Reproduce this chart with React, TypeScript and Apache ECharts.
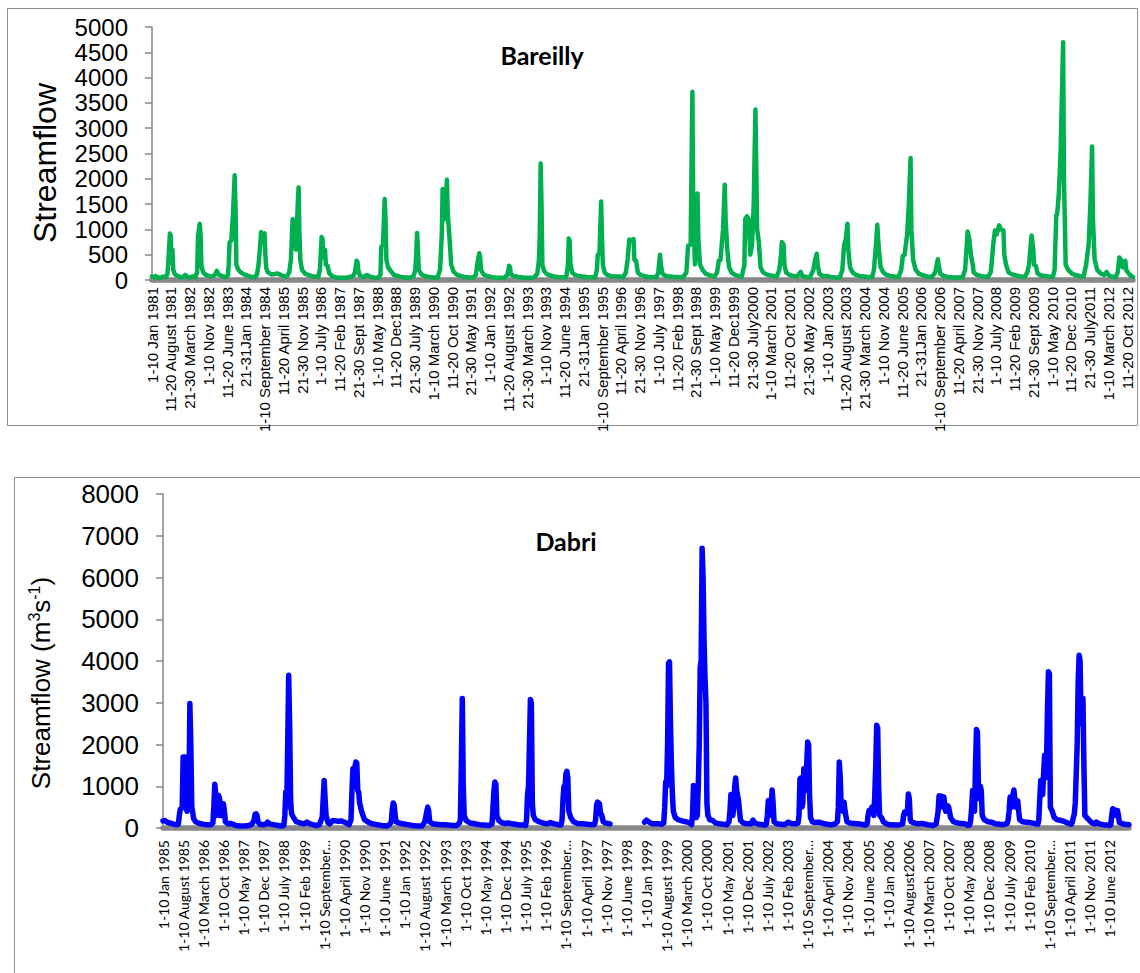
import React, { useEffect, useRef } from "react";
import * as echarts from "echarts";

// Dekad tick labels (every 22nd dekad from 1-10 Jan 1981)
const bareillyTicks = [
  "1-10 Jan 1981", "11-20 August 1981", "21-30 March 1982", "1-10 Nov 1982",
  "11-20 June 1983", "21-31Jan 1984", "1-10 September 1984", "11-20 April 1985",
  "21-30 Nov 1985", "1-10 July 1986", "11-20 Feb 1987", "21-30 Sept 1987",
  "1-10 May 1988", "11-20 Dec1988", "21-30 July 1989", "1-10 March 1990",
  "11-20 Oct 1990", "21-30 May 1991", "1-10 Jan 1992", "11-20 August 1992",
  "21-30 March 1993", "1-10 Nov 1993", "11-20 June 1994", "21-31Jan 1995",
  "1-10 September 1995", "11-20 April 1996", "21-30 Nov 1996", "1-10 July 1997",
  "11-20 Feb 1998", "21-30 Sept 1998", "1-10 May 1999", "11-20 Dec1999",
  "21-30 July2000", "1-10 March 2001", "11-20 Oct 2001", "21-30 May 2002",
  "1-10 Jan 2003", "11-20 August 2003", "21-30 March 2004", "1-10 Nov 2004",
  "11-20 June 2005", "21-31Jan 2006", "1-10 September 2006", "11-20 April 2007",
  "21-30 Nov 2007", "1-10 July 2008", "11-20 Feb 2009", "21-30 Sept 2009",
  "1-10 May 2010", "11-20 Dec 2010", "21-30 July2011", "1-10 March 2012",
  "11-20 Oct 2012",
];

// Dekad tick labels (every 21st dekad from 1-10 Jan 1985)
const dabriTicks = [
  "1-10 Jan 1985", "1-10 August 1985", "1-10 March 1986", "1-10 Oct 1986",
  "1-10 May 1987", "1-10 Dec 1987", "1-10 July 1988", "1-10 Feb 1989",
  "1-10 September 1989", "1-10 April 1990", "1-10 Nov 1990", "1-10 June 1991",
  "1-10 Jan 1992", "1-10 August 1992", "1-10 March 1993", "1-10 Oct 1993",
  "1-10 May 1994", "1-10 Dec 1994", "1-10 July 1995", "1-10 Feb 1996",
  "1-10 September 1996", "1-10 April 1997", "1-10 Nov 1997", "1-10 June 1998",
  "1-10 Jan 1999", "1-10 August 1999", "1-10 March 2000", "1-10 Oct 2000",
  "1-10 May 2001", "1-10 Dec 2001", "1-10 July 2002", "1-10 Feb 2003",
  "1-10 September 2003", "1-10 April 2004", "1-10 Nov 2004", "1-10 June 2005",
  "1-10 Jan 2006", "1-10 August2006", "1-10 March 2007", "1-10 Oct 2007",
  "1-10 May 2008", "1-10 Dec 2008", "1-10 July 2009", "1-10 Feb 2010",
  "1-10 September 2010", "1-10 April 2011", "1-10 Nov 2011", "1-10 June 2012",
];

const bareillyStep = 22;
const dabriStep = 21;
const bareillyDekads = 1152; // 1981-2012
const dabriDekads = 1008; // 1985-2012

// Bareilly streamflow: [dekad index from Jan 1981, flow]
const bareillyFlow: [number, number][] = [
  [0,70],[2,55],[4,80],[7,50],[10,45],[13,70],[16,60],[18,110],[19,320],[21,920],[22,870],[23,330],[24,600],[25,190],[27,110],[30,80],[33,60],[36,55],[39,100],[42,60],[45,50],[48,75],[51,55],
  [53,160],[54,870],[56,1110],[57,880],[58,280],[60,150],[63,100],[67,80],[71,70],[74,110],[76,180],[78,110],[82,80],[86,60],[89,90],
  [90,300],[91,740],[93,780],[95,1300],[97,2070],[98,1400],[99,300],[101,210],[104,150],[108,110],[112,85],[116,65],[120,55],[123,100],
  [125,300],[127,700],[128,950],[130,900],[132,920],[133,500],[134,240],[136,150],[140,110],[144,120],[147,130],[150,110],[154,80],[158,70],
  [161,150],[163,400],[165,1200],[167,1150],[169,600],[171,1500],[172,1830],[173,900],[174,400],[176,200],[180,120],[185,90],[190,70],[195,60],
  [197,200],[199,850],[200,820],[201,450],[203,600],[204,300],[206,280],[208,130],[212,70],[217,50],[222,45],[228,45],[232,60],[236,80],
  [238,150],[240,380],[241,360],[242,200],[244,80],[248,60],[252,100],[255,70],[260,50],[265,45],
  [268,100],[269,650],[271,700],[273,1600],[274,1200],[275,400],[277,250],[280,180],[284,100],[288,80],[292,60],[296,50],[300,50],[304,55],
  [307,80],[309,200],[310,500],[311,930],[312,600],[313,200],[316,110],[320,80],[325,60],[330,50],[335,50],
  [338,200],[340,900],[341,1800],[343,1750],[344,1200],[346,1980],[347,1300],[349,850],[351,300],[354,160],[358,100],[362,80],[367,60],[372,50],[377,50],
  [380,100],[382,350],[384,530],[385,450],[386,200],[389,110],[393,80],[398,60],[403,50],[409,45],[414,50],
  [417,100],[419,280],[420,250],[421,120],[424,80],[430,60],[436,50],[442,45],[448,50],
  [452,120],[454,400],[455,900],[456,2300],[457,1500],[458,300],[460,180],[463,120],[467,90],[472,70],[477,60],[482,55],[486,60],
  [488,300],[489,820],[490,780],[491,300],[493,150],[496,100],[500,80],[505,70],[510,60],[515,55],[520,60],
  [522,200],[523,500],[525,520],[527,1550],[528,800],[529,300],[531,150],[534,100],[538,80],[543,70],[548,70],[553,60],
  [556,150],[558,400],[560,800],[563,780],[565,810],[566,400],[568,380],[570,150],[573,100],[577,80],[582,60],[587,60],[592,55],
  [594,150],[596,500],[597,300],[599,120],[603,80],[608,70],[613,60],[618,60],[623,55],
  [627,150],[629,680],[632,700],[634,3720],[635,1500],[637,310],[638,500],[640,1710],[641,800],[643,300],[646,200],[650,120],[655,90],[660,70],
  [663,150],[665,380],[667,400],[670,1000],[672,1880],[673,1200],[675,600],[677,250],[680,150],[684,100],[688,80],[692,70],
  [695,300],[696,1200],[698,1260],[700,1200],[702,500],[704,700],[706,1500],[708,3370],[709,2200],[710,1000],[712,750],[714,250],[717,150],[721,110],[725,90],[729,80],[733,70],
  [736,200],[738,500],[739,750],[741,700],[742,300],[744,150],[748,100],[752,80],[757,70],[761,160],[763,80],[767,60],[772,55],
  [776,200],[778,400],[780,520],[781,300],[783,120],[787,80],[792,80],[796,60],[802,50],[807,50],
  [810,200],[812,690],[814,800],[816,1110],[817,600],[819,250],[822,150],[826,100],[830,80],[835,70],[840,60],[845,60],
  [847,200],[849,600],[851,1090],[852,800],[853,580],[855,250],[858,150],[862,100],[866,80],[871,70],[876,60],
  [879,200],[881,480],[883,500],[886,900],[888,1500],[890,2410],[891,1000],[893,400],[896,200],[900,120],[905,90],[910,70],[915,60],
  [919,150],[922,410],[923,300],[925,120],[929,80],[934,60],[940,50],[946,50],[951,55],
  [954,200],[956,700],[957,960],[959,800],[961,480],[963,300],[964,150],[968,100],[972,80],[977,70],[981,60],
  [984,150],[985,300],[987,700],[989,980],[991,900],[994,1080],[996,1000],[999,980],[1000,500],[1002,300],[1005,150],[1009,110],[1014,90],[1019,70],[1024,60],
  [1027,150],[1029,300],[1031,700],[1032,880],[1034,600],[1035,300],[1037,280],[1039,130],[1043,90],[1048,80],[1053,70],[1057,60],
  [1059,200],[1061,1280],[1062,1300],[1064,1710],[1066,2500],[1069,4700],[1070,2000],[1072,300],[1075,200],[1079,130],[1083,100],[1088,80],[1093,70],
  [1096,300],[1099,700],[1101,1500],[1103,2640],[1104,1200],[1106,400],[1109,200],[1113,130],[1117,100],[1120,160],[1122,100],[1126,70],[1131,60],
  [1133,150],[1135,445],[1137,400],[1139,250],[1142,380],[1143,200],[1145,150],[1148,90],[1151,60],
];

// Dabri streamflow: [dekad index from Jan 1985, flow]; 1998 has no record
const dabriFlow: [number, number | null][] = [
  [0,170],[2,180],[4,140],[7,120],[10,100],[13,80],[16,90],[17,300],[18,450],[20,480],[21,1700],[23,1700],[24,700],[25,400],[27,600],[28,2980],[29,2000],[30,500],[32,220],[34,150],[38,110],[42,90],[46,80],[50,80],
  [52,120],[53,500],[54,1050],[55,800],[56,300],[57,400],[58,780],[59,700],[60,300],[62,300],[63,580],[64,400],[65,150],[68,100],[71,110],[73,90],[76,60],[80,50],[85,50],[90,60],
  [93,100],[95,200],[96,330],[97,340],[98,300],[99,150],[101,90],[104,80],[107,90],[109,140],[111,100],[115,80],[120,60],[124,50],[126,60],
  [127,300],[128,860],[129,500],[130,2000],[131,3660],[132,2500],[133,700],[134,340],[136,250],[139,150],[143,120],[147,100],[150,140],[152,110],[156,80],[160,60],[163,80],
  [165,200],[166,260],[167,700],[168,1140],[169,700],[170,300],[172,130],[174,100],[177,180],[180,170],[183,160],[186,170],[190,130],[194,80],
  [196,200],[197,900],[198,1420],[199,1350],[200,1450],[201,1580],[202,1560],[203,900],[204,850],[205,600],[207,400],[210,200],[214,140],[218,100],[223,80],[228,60],[233,50],
  [236,80],[238,150],[239,450],[240,600],[241,550],[242,300],[243,150],[246,120],[250,100],[255,80],[260,60],[265,50],[270,50],
  [273,150],[275,400],[276,500],[277,400],[278,150],[281,100],[285,90],[289,80],[293,80],[297,70],[302,60],[306,60],
  [309,120],[310,200],[311,1500],[312,3100],[313,1000],[314,300],[316,180],[320,120],[325,100],[330,80],[335,70],[340,60],
  [343,100],[344,500],[345,900],[346,1100],[347,1050],[348,300],[350,180],[353,130],[356,110],[360,120],[364,100],[370,80],[375,70],[378,60],
  [379,200],[380,800],[381,1000],[382,2000],[383,3080],[384,3000],[385,600],[386,300],[388,200],[392,150],[396,120],[400,100],[404,130],[408,100],[412,80],[415,80],
  [416,200],[417,700],[418,1000],[419,900],[420,1300],[421,1360],[422,1200],[423,400],[425,250],[428,150],[432,110],[437,100],[442,90],[447,80],[450,90],
  [451,200],[452,550],[453,620],[455,580],[456,350],[457,330],[459,150],[461,120],[464,110],[466,100],
  [484,null],
  [502,140],[504,190],[506,150],[509,110],[513,100],[517,100],[520,90],[522,120],[523,500],[524,1100],[525,1000],[526,2000],[527,3950],[528,3980],[529,2500],[530,1500],[531,800],[532,400],[534,250],[537,200],[541,170],[545,150],[549,120],[551,80],
  [552,300],[553,1020],[554,1000],[555,1000],[556,250],[557,300],[558,1000],[559,2000],[560,3850],[561,4000],[562,6700],[563,6000],[564,4500],[565,3600],[566,3000],[567,600],[568,300],[570,200],[573,180],[576,120],[580,100],[584,90],[588,80],
  [590,150],[591,400],[592,800],[593,700],[594,300],[595,500],[596,1000],[597,1200],[598,900],[600,650],[601,400],[602,180],[605,120],[609,100],[613,100],[615,190],[617,120],[621,90],[625,80],[628,70],
  [629,100],[630,300],[631,660],[632,650],[633,300],[634,500],[635,910],[636,600],[637,150],[640,100],[644,90],[648,80],[652,140],[655,110],[659,100],[662,120],
  [663,300],[664,1180],[665,1200],[666,500],[667,600],[668,1420],[669,1300],[670,900],[671,1500],[672,2060],[673,2000],[674,800],[675,250],[677,150],[680,130],[684,140],[688,110],[692,90],[696,80],[700,90],[703,150],
  [704,500],[705,1580],[706,1200],[707,500],[709,400],[710,620],[711,400],[713,150],[716,120],[720,110],[724,100],[728,90],[732,70],[734,100],
  [735,300],[736,420],[737,400],[739,500],[741,300],[742,800],[743,1500],[744,2460],[745,2400],[746,1000],[747,300],[749,250],[751,150],[754,100],[757,80],[760,80],[764,70],[768,80],
  [771,100],[772,300],[773,380],[775,350],[776,400],[777,816],[778,700],[779,200],[780,150],[783,120],[787,100],[791,110],[795,90],[799,70],[803,60],[806,100],
  [808,400],[809,770],[811,760],[812,760],[813,500],[814,740],[815,500],[816,400],[818,530],[819,500],[821,250],[824,150],[828,120],[832,110],[836,100],[839,60],
  [841,80],[842,200],[843,500],[844,900],[845,800],[846,400],[847,1500],[848,2360],[849,2300],[850,1000],[851,700],[852,1000],[853,900],[854,300],[856,200],[860,150],[864,140],[868,100],[872,90],[876,80],[880,110],
  [881,200],[882,400],[883,740],[884,700],[885,500],[886,800],[887,910],[888,700],[889,500],[890,600],[891,650],[892,400],[893,200],[896,150],[900,140],[904,130],[908,110],[912,90],
  [913,200],[914,700],[915,1140],[916,1000],[917,800],[918,1300],[919,1740],[920,1200],[921,1500],[922,2800],[923,3740],[924,3700],[925,500],[927,400],[929,250],[932,200],[936,180],[940,150],[944,110],[947,90],
  [948,150],[949,250],[950,340],[951,600],[953,2000],[954,3500],[955,4140],[956,4000],[957,2500],[958,2500],[959,3100],[960,1500],[961,300],[963,250],[965,200],[968,130],[971,100],[973,140],[976,100],[980,80],[984,70],[987,60],
  [988,80],[989,300],[990,460],[991,450],[992,300],[994,420],[995,420],[996,300],[997,130],[1000,100],[1003,90],[1007,80],
];

const AXIS_GREY = "#878787";
const ARIAL = "'Liberation Sans', Arial, sans-serif";
const CALIBRI = "Lato, 'Noto Sans', sans-serif";

function tickFormatter(labels: string[], step: number) {
  return (v: number) => {
    const i = Math.round(v);
    if (i % step !== 0) return "";
    return labels[i / step] ?? "";
  };
}

const plainNumber = (v: number) => String(v);

export default function App() {
  const ref = useRef<HTMLDivElement>(null);

  useEffect(() => {
    if (!ref.current) return;
    const chart = echarts.init(ref.current, null, { renderer: "svg" });

    const option: any = {
      animation: false,
      backgroundColor: "#ffffff",
      grid: [
        { left: 152, top: 27, width: 981, height: 253 },
        { left: 163, top: 494, width: 966, height: 334 },
      ],
      xAxis: [
        {
          gridIndex: 0,
          type: "value",
          min: 0,
          max: bareillyDekads - 1,
          interval: bareillyStep,
          splitLine: { show: false },
          axisTick: { show: false },
          axisLine: { show: true, lineStyle: { color: AXIS_GREY, width: 5.5 } },
          axisLabel: {
            rotate: 90,
            margin: 7,
            fontFamily: ARIAL,
            fontSize: 15,
            color: "#000",
            showMaxLabel: false,
            formatter: tickFormatter(bareillyTicks, bareillyStep),
          },
        },
        {
          gridIndex: 1,
          type: "value",
          min: 0,
          max: dabriDekads - 1,
          interval: dabriStep,
          splitLine: { show: false },
          axisTick: { show: false },
          axisLine: { show: true, lineStyle: { color: AXIS_GREY, width: 5.5 } },
          axisLabel: {
            rotate: 90,
            margin: 12,
            fontFamily: CALIBRI,
            fontSize: 14,
            color: "#000",
            showMaxLabel: false,
            width: 115,
            overflow: "truncate",
            ellipsis: "…",
            formatter: tickFormatter(dabriTicks, dabriStep),
          },
        },
      ],
      yAxis: [
        {
          gridIndex: 0,
          type: "value",
          min: 0,
          max: 5000,
          interval: 500,
          splitLine: { show: false },
          axisLine: { show: true, lineStyle: { color: AXIS_GREY, width: 1.5 } },
          axisTick: { show: true, length: 7, lineStyle: { color: AXIS_GREY, width: 1.5 } },
          axisLabel: { margin: 24, fontFamily: ARIAL, fontSize: 24, color: "#000", formatter: plainNumber },
        },
        {
          gridIndex: 1,
          type: "value",
          min: 0,
          max: 8000,
          interval: 1000,
          splitLine: { show: false },
          axisLine: { show: true, lineStyle: { color: AXIS_GREY, width: 1.5 } },
          axisTick: { show: true, length: 7, lineStyle: { color: AXIS_GREY, width: 1.5 } },
          axisLabel: { margin: 24, fontFamily: ARIAL, fontSize: 26, color: "#000", formatter: plainNumber },
        },
      ],
      series: [
        {
          name: "Bareilly",
          type: "line",
          xAxisIndex: 0,
          yAxisIndex: 0,
          data: bareillyFlow,
          showSymbol: false,
          lineStyle: { color: "#00B050", width: 4.5, join: "round", cap: "round" },
          itemStyle: { color: "#00B050" },
        },
        {
          name: "Dabri",
          type: "line",
          xAxisIndex: 1,
          yAxisIndex: 1,
          data: dabriFlow,
          connectNulls: false,
          showSymbol: false,
          lineStyle: { color: "#0000FF", width: 5.5, join: "round", cap: "round" },
          itemStyle: { color: "#0000FF" },
        },
      ],
      graphic: [
        {
          type: "rect",
          silent: true,
          shape: { x: 7.5, y: 8.5, width: 1130, height: 417 },
          style: { fill: "none", stroke: "#8c8c8c", lineWidth: 1 },
        },
        {
          type: "rect",
          silent: true,
          shape: { x: 14.5, y: 477.5, width: 1140, height: 520 },
          style: { fill: "none", stroke: "#8c8c8c", lineWidth: 1 },
        },
        {
          type: "text",
          x: 45,
          y: 163,
          rotation: Math.PI / 2,
          style: {
            text: "Streamflow",
            fontFamily: ARIAL,
            fontSize: 32,
            fill: "#000",
            align: "center",
            verticalAlign: "middle",
          },
        },
        {
          type: "text",
          x: 41,
          y: 683,
          rotation: Math.PI / 2,
          style: {
            text: "Streamflow (m{sup|3}s{sup|-1})",
            fontFamily: ARIAL,
            fontSize: 26,
            fill: "#000",
            align: "center",
            verticalAlign: "middle",
            rich: {
              sup: { fontFamily: ARIAL, fontSize: 16, fill: "#000", verticalAlign: "top", lineHeight: 30 },
            },
          },
        },
        {
          type: "text",
          x: 542,
          y: 55,
          style: {
            text: "Bareilly",
            fontFamily: CALIBRI,
            fontSize: 25,
            fontWeight: "bold",
            fill: "#000",
            align: "center",
            verticalAlign: "middle",
          },
        },
        {
          type: "text",
          x: 566,
          y: 541,
          style: {
            text: "Dabri",
            fontFamily: CALIBRI,
            fontSize: 25,
            fontWeight: "bold",
            fill: "#000",
            align: "center",
            verticalAlign: "middle",
          },
        },
      ],
    };

    chart.setOption(option);
    return () => chart.dispose();
  }, []);

  return (
    <div
      ref={ref}
      style={{ position: "fixed", left: 0, top: 0, width: 1140, height: 973, background: "#fff" }}
    />
  );
}
